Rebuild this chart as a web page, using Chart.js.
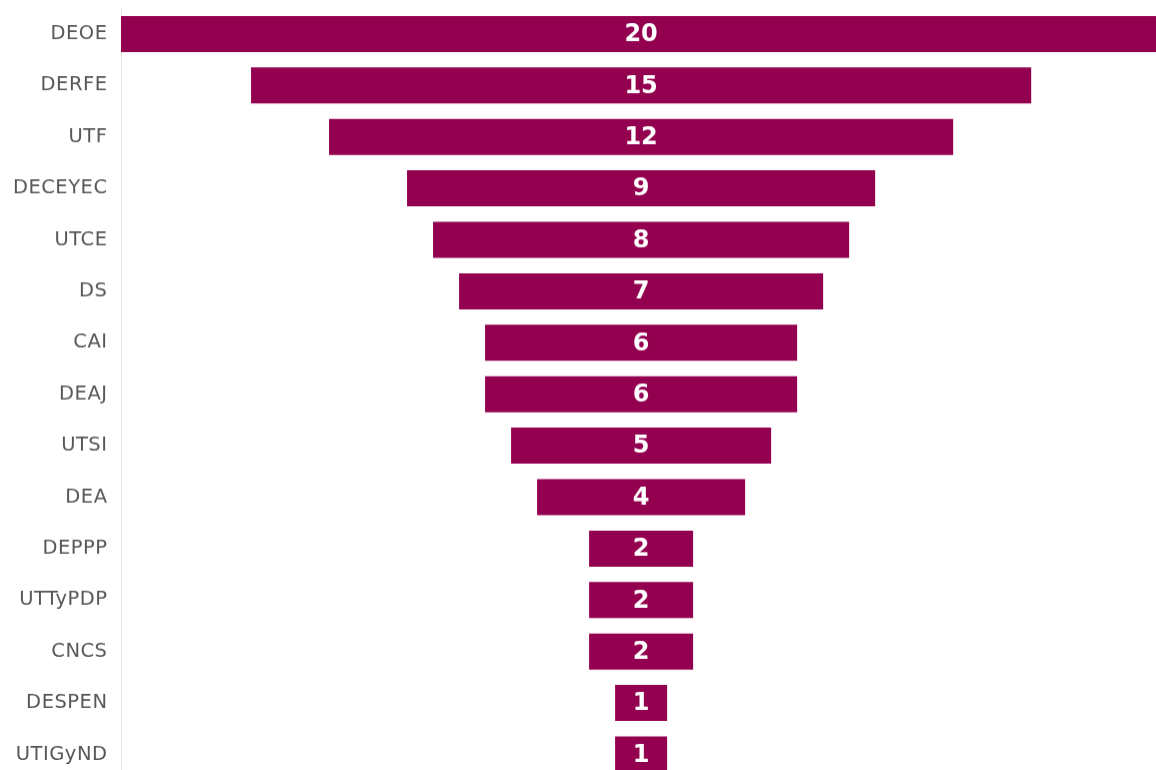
<!DOCTYPE html>
<html>
<head>
<meta charset="utf-8">
<script src="https://cdn.jsdelivr.net/npm/chart.js@4/dist/chart.umd.min.js"></script>
<style>
  html, body { margin: 0; padding: 0; overflow: hidden; background: #fff; }
  #wrap { width: 1156px; height: 780px; }
</style>
</head>
<body>
<div id="wrap"><canvas id="funnelChart"></canvas></div>
<script>
// datos del embudo
const areas = ['DEOE', 'DERFE', 'UTF', 'DECEYEC', 'UTCE', 'DS', 'CAI', 'DEAJ', 'UTSI', 'DEA', 'DEPPP', 'UTTyPDP', 'CNCS', 'DESPEN', 'UTIGyND'];
const totals = [20, 15, 12, 9, 8, 7, 6, 6, 5, 4, 2, 2, 2, 1, 1];

// barras flotantes centradas en cero
const spans = totals.map(v => [-v / 2, v / 2]);

const centerLabels = {
    id: 'centerLabels',
    beforeDraw(chart) {
        chart.ctx.letterSpacing = '0.5px';
    },
    afterDatasetsDraw(chart) {
        const ctx = chart.ctx;
        const meta = chart.getDatasetMeta(0);
        const cx = chart.scales.x.getPixelForValue(0);
        ctx.save();
        ctx.letterSpacing = '0px';
        ctx.fillStyle = '#ffffff';
        ctx.font = 'bold 24px "DejaVu Sans", sans-serif';
        ctx.textAlign = 'center';
        ctx.textBaseline = 'middle';
        meta.data.forEach((bar, i) => {
            ctx.fillText(String(totals[i]), cx, bar.y + 1);
        });
        ctx.restore();
    }
};

const chart = new Chart(document.getElementById('funnelChart'), {
    type: 'bar',
    data: {
        labels: areas,
        datasets: [{
            data: spans,
            backgroundColor: '#940050',
            borderWidth: 0,
            categoryPercentage: 1,
            barPercentage: 0.7
        }]
    },
    options: {
        indexAxis: 'y',
        responsive: true,
        maintainAspectRatio: false,
        animation: false,
        plugins: { legend: { display: false }, tooltip: { enabled: false } },
        scales: {
            x: {
                display: false,
                min: -10,
                max: 9.9
            },
            y: {
                afterFit: (scale) => { scale.width = 121; },
                grid: { display: false, drawTicks: false },
                border: { display: true, color: '#e2e2e2', width: 1 },
                ticks: {
                    padding: 13.5,
                    color: '#575757',
                    font: { family: '"DejaVu Sans", sans-serif', size: 19.5 }
                }
            }
        }
    },
    plugins: [centerLabels]
});

// el área del gráfico va de y=8 a y=779 (la última fila queda cortada por la ventana)
const wrap = document.getElementById('wrap');
const a = chart.chartArea;
const padTop = a.top, padBottom = chart.height - a.bottom;
wrap.style.marginTop = (8.3 - padTop) + 'px';
wrap.style.height = (771 + padTop + padBottom) + 'px';
chart.resize();
</script>
</body>
</html>
